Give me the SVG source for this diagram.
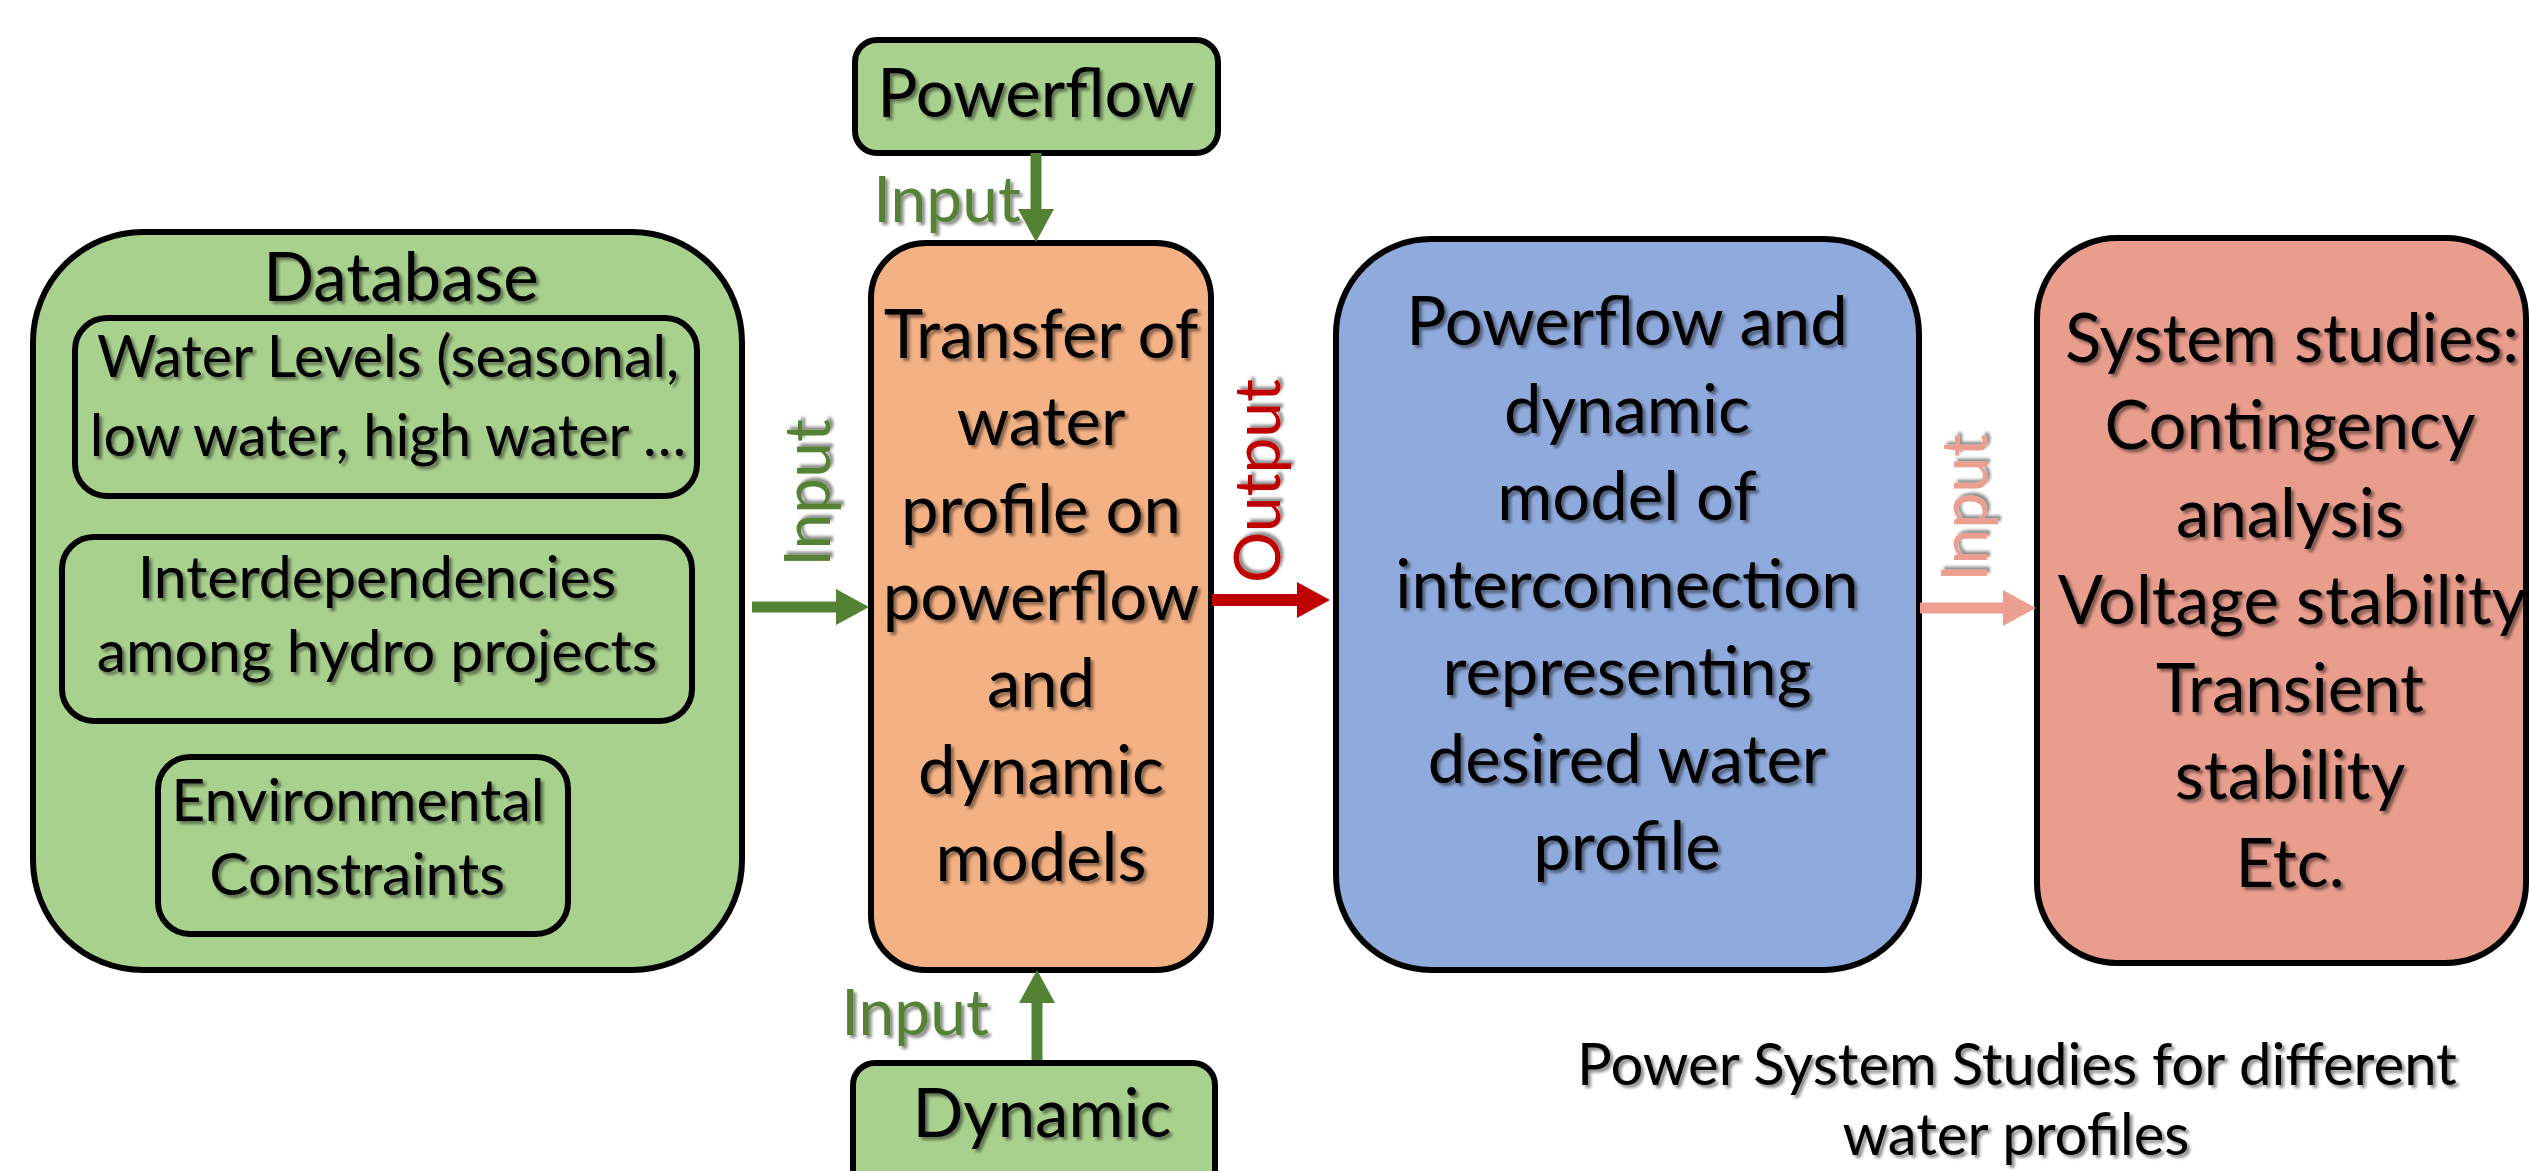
<svg xmlns="http://www.w3.org/2000/svg" width="2529" height="1171" viewBox="0 0 2529 1171">
<defs>
<filter id="ts" x="-10%" y="-10%" width="130%" height="140%">
<feDropShadow dx="3" dy="3" stdDeviation="1.6" flood-color="#000" flood-opacity="0.45"/>
</filter>
<marker id="hg" markerUnits="userSpaceOnUse" markerWidth="33" markerHeight="36" refX="0" refY="18" orient="auto"><path d="M0,0 L33,18 L0,36 z" fill="#548235"/></marker>
<marker id="hr" markerUnits="userSpaceOnUse" markerWidth="33" markerHeight="36" refX="0" refY="18" orient="auto"><path d="M0,0 L33,18 L0,36 z" fill="#c00000"/></marker>
<marker id="hp" markerUnits="userSpaceOnUse" markerWidth="33" markerHeight="36" refX="0" refY="18" orient="auto"><path d="M0,0 L33,18 L0,36 z" fill="#ec9e90"/></marker>
</defs>
<style>
.box{stroke:#000;stroke-width:6}
.g{fill:#a9d18e}
.o{fill:#f4b183}
.b{fill:#8faadc}
.p{fill:#e99d8d}
text{font-family:Lato,"Liberation Sans",sans-serif;}
.t{font-size:67px;fill:#000;text-anchor:middle;filter:url(#ts)}
.s{font-size:59px;fill:#000;text-anchor:middle;filter:url(#ts)}
.w{font-size:57.5px;fill:#000;text-anchor:middle;filter:url(#ts)}
.c{font-size:58px;fill:#000;text-anchor:middle;filter:url(#ts)}
.lbl{font-size:64px;text-anchor:middle;filter:url(#ts)}
.cg{stroke:#548235;stroke-width:11;fill:none}
.cr{stroke:#c00000;stroke-width:12;fill:none}
.cp{stroke:#ec9e90;stroke-width:11;fill:none}
</style>
<rect width="2529" height="1171" fill="#fff"/>

<g id="database">
<rect class="box g" x="33" y="232" width="709" height="738" rx="110"/>
<text class="t" x="401" y="301">Database</text>
</g>
<g id="water-levels">
<rect class="box g" x="75" y="318" width="622" height="178" rx="32"/>
<text class="w" x="388" y="377">Water Levels (seasonal,</text>
<text class="w" x="388" y="456">low water, high water …</text>
</g>
<g id="interdependencies">
<rect class="box g" x="62" y="537" width="630" height="184" rx="32"/>
<text class="s" x="377" y="598">Interdependencies</text>
<text class="s" x="377" y="672">among hydro projects</text>
</g>
<g id="environmental">
<rect class="box g" x="158" y="757" width="410" height="177" rx="32"/>
<text class="s" x="358" y="821">Environmental</text>
<text class="s" x="357" y="895">Constraints</text>
</g>

<g id="powerflow">
<rect class="box g" x="855" y="40" width="363" height="113" rx="22"/>
<text class="t" x="1036" y="117">Powerflow</text>
</g>
<g id="dynamic">
<rect class="box g" x="853" y="1063" width="362" height="150" rx="22"/>
<text class="t" x="1042" y="1137">Dynamic</text>
</g>

<g id="transfer">
<rect class="box o" x="871" y="243" width="340" height="727" rx="55"/>
<text class="t" x="1041" y="358">Transfer of</text>
<text class="t" x="1041" y="445">water</text>
<text class="t" x="1041" y="533">profile on</text>
<text class="t" x="1041" y="620">powerflow</text>
<text class="t" x="1041" y="707">and</text>
<text class="t" x="1041" y="794">dynamic</text>
<text class="t" x="1041" y="881">models</text>
</g>

<g id="model">
<rect class="box b" x="1336" y="239" width="583" height="731" rx="95"/>
<text class="t" x="1627" y="345">Powerflow and</text>
<text class="t" x="1627" y="433">dynamic</text>
<text class="t" x="1627" y="520">model of</text>
<text class="t" x="1627" y="608">interconnection</text>
<text class="t" x="1627" y="695">representing</text>
<text class="t" x="1627" y="783">desired water</text>
<text class="t" x="1627" y="870">profile</text>
</g>

<g id="studies">
<rect class="box p" x="2037" y="238" width="489" height="725" rx="80"/>
<text class="t" x="2292" y="362">System studies:</text>
<text class="t" x="2290" y="449">Contingency</text>
<text class="t" x="2290" y="537">analysis</text>
<text class="t" x="2292" y="624">Voltage stability</text>
<text class="t" x="2290" y="712">Transient</text>
<text class="t" x="2290" y="799">stability</text>
<text class="t" x="2290" y="887">Etc.</text>
</g>

<g id="caption">
<text class="c" x="2017" y="1085">Power System Studies for different</text>
<text class="c" x="2016" y="1155">water profiles</text>
</g>

<g id="connectors">
<line class="cg" x1="1036" y1="153" x2="1036" y2="209" marker-end="url(#hg)"/>
<line class="cg" x1="1037" y1="1060" x2="1037" y2="1003" marker-end="url(#hg)"/>
<line class="cg" x1="752" y1="607" x2="836" y2="607" marker-end="url(#hg)"/>
<line class="cr" x1="1212" y1="600" x2="1297" y2="600" marker-end="url(#hr)"/>
<line class="cp" x1="1920" y1="608" x2="2003" y2="608" marker-end="url(#hp)"/>
<text class="lbl" x="947" y="222" fill="#548235">Input</text>
<text class="lbl" x="915" y="1035" fill="#548235">Input</text>
<text class="lbl" transform="translate(830,493) rotate(-90)" fill="#548235">Input</text>
<text class="lbl" transform="translate(1280,481) rotate(-90)" fill="#c00000">Output</text>
<text class="lbl" transform="translate(1987,508) rotate(-90)" fill="#ec9e90">Input</text>
</g>
</svg>
